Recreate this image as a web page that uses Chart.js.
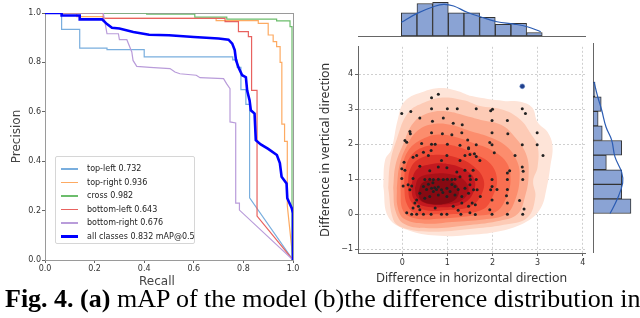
<!DOCTYPE html>
<html>
<head>
<meta charset="utf-8">
<script src="https://cdn.jsdelivr.net/npm/chart.js@4.4.1/dist/chart.umd.min.js"></script>
<style>
  body { margin: 0; background: #fff; width: 640px; height: 318px; overflow: hidden; position: relative; }
  canvas { position: absolute; }
  .lbl { position: absolute; white-space: nowrap; color: #333; }
  #legend { position: absolute; left: 55px; top: 156px; width: 138px; height: 86px; border: 1px solid #d6d6d6; border-radius: 2px; background: rgba(255,255,255,0.85); }
  #legend .row { position: absolute; left: 0; height: 10px; }
  #legend .swatch { position: absolute; left: 5px; width: 17px; }
  #legend .txt { position: absolute; left: 31px; top: 0; font: 8px 'DejaVu Sans'; line-height: 10px; color: #222; white-space: nowrap; }
  #cap { position: absolute; left: 5px; top: 286px; font: 26px 'Liberation Serif'; line-height: 26px; color: #000; white-space: nowrap; }
</style>
</head>
<body>
<canvas id="pr" width="305" height="295" style="left:0;top:0"></canvas>
<canvas id="joint" width="300" height="250" style="left:300px;top:40px"></canvas>
<canvas id="histTop" width="232" height="38" style="left:358px;top:0"></canvas>
<canvas id="histRight" width="50" height="210" style="left:590px;top:43px"></canvas>
<div id="legend"></div>
<div class="lbl" style="left:139px;top:274px;font:12px 'DejaVu Sans';color:#444">Recall</div>
<div id="cap"><b>Fig. 4. (a)</b> mAP of the model (b)the difference distribution in</div>

<script>
// ---------- (a) precision / recall curves ----------
const legendLabels = ['top-left 0.732', 'top-right 0.936', 'cross 0.982', 'bottom-left 0.643', 'bottom-right 0.676', 'all classes 0.832 mAP@0.5'];
const lineColors = ['#79aede', '#fdaa62', '#6cbd6c', '#e8625f', '#b99cda', '#0000ff'];

const tlRecall = [0, 0.067, 0.067, 0.14, 0.14, 0.25, 0.25, 0.40, 0.40, 0.757, 0.757, 0.775, 0.775, 0.79, 0.79, 0.81, 0.81, 0.825, 0.825, 1.0];
const tlPrec   = [1, 1, 0.934, 0.934, 0.858, 0.858, 0.852, 0.852, 0.822, 0.822, 0.81, 0.81, 0.78, 0.78, 0.69, 0.69, 0.63, 0.63, 0.252, 0.0];

const trRecall = [0, 0.128, 0.128, 0.235, 0.235, 0.69, 0.69, 0.86, 0.86, 0.90, 0.90, 0.92, 0.92, 0.934, 0.934, 0.948, 0.948, 0.955, 0.955, 0.966, 0.966, 0.977, 0.977, 1.0];
const trPrec   = [1, 1, 0.985, 0.985, 0.978, 0.978, 0.969, 0.969, 0.958, 0.958, 0.911, 0.911, 0.884, 0.884, 0.864, 0.864, 0.80, 0.80, 0.55, 0.55, 0.48, 0.48, 0.22, 0.0];

const crRecall = [0, 0.41, 0.41, 0.604, 0.604, 0.733, 0.733, 0.934, 0.934, 0.988, 0.988, 0.996, 0.996];
const crPrec   = [1, 1, 0.995, 0.995, 0.983, 0.983, 0.975, 0.975, 0.968, 0.968, 0.945, 0.945, 0.0];

const blRecall = [0, 0.235, 0.235, 0.726, 0.726, 0.78, 0.78, 0.82, 0.82, 0.833, 0.833, 0.855, 0.855, 1.0];
const blPrec   = [1, 1, 0.978, 0.978, 0.965, 0.965, 0.925, 0.925, 0.904, 0.904, 0.687, 0.687, 0.178, 0.0];

const brRecall = [0, 0.235, 0.25, 0.296, 0.30, 0.33, 0.35, 0.355, 0.37, 0.423, 0.504, 0.524, 0.544, 0.61, 0.625, 0.72, 0.732, 0.746, 0.746, 0.769, 0.769, 0.784, 0.784, 1.0];
const brPrec   = [1, 1, 0.916, 0.916, 0.892, 0.892, 0.842, 0.808, 0.784, 0.78, 0.775, 0.761, 0.754, 0.748, 0.738, 0.734, 0.714, 0.694, 0.559, 0.555, 0.23, 0.23, 0.202, 0.0];

const allRecall = [0, 0.067, 0.067, 0.14, 0.14, 0.23, 0.25, 0.27, 0.30, 0.356, 0.42, 0.5, 0.6, 0.7, 0.74, 0.755, 0.765, 0.77, 0.78, 0.795, 0.81, 0.815, 0.825, 0.83, 0.845, 0.85, 0.87, 0.9, 0.935, 0.947, 0.954, 0.974, 0.977, 0.995, 1.0, 1.0];
const allPrec   = [1, 1, 0.99, 0.99, 0.974, 0.974, 0.955, 0.94, 0.937, 0.923, 0.912, 0.91, 0.903, 0.897, 0.892, 0.876, 0.85, 0.81, 0.78, 0.748, 0.74, 0.687, 0.646, 0.606, 0.593, 0.485, 0.468, 0.45, 0.425, 0.392, 0.337, 0.31, 0.25, 0.21, 0.19, 0.0];

const prTicks = [0, 0.2, 0.4, 0.6, 0.8, 1.0];

// ---------- (b) difference distribution ----------
const diffX = [0.65, 0.80, -0.01, 0.19, 0.65, 1.0, 1.22, 0.39, 0.67, 0.91, 1.13, 1.33, 0.17, 0.18, 0.65, 0.89, 1.1, 1.32, 0.06, 0.1, 0.43, 0.65, 0.73, 1.0, 1.28, 1.45, 1.47,
  1.64, 1.96, 2.0, 2.66, 2.73, 1.99, 2.33, 1.99, 2.34, 2.99, 1.64, 1.94, 1.99, 2.66, 2.99,
  2.04, 2.5, 3.12, 2.66, 2.68, 2.38, 2.33, 2.33, 2.67, 1.99, 1.64, 1.57, 1.72, 1.6, 1.64, 1.99, 1.96, 2.1, 2.33, 2.31, 2.6, 2.33, 2.7, 1.99, 1.94, 1.62, 1.99, 2.33, 2.67, 1.66, 1.58, 1.73, 1.62, 1.55, 1.51,
  0.32, 0.58, 0.64, 0.99, 0.04, 0.24, 1.47, 1.39, 1.5, 0.47, 1.28, 0.87, -0.01, 0.06, 0.39, 0.61, 0.8, 0.99, 1.21, 1.39, 1.28, 1.5, -0.01, 0.02, 0.13, 0.21, 0.17, 0.24,
  0.5, 0.61, 0.69, 0.8, 0.91, 1.0, 1.1, 1.17, 0.47, 0.54, 0.65, 0.69, 0.76, 0.87, 0.99, 1.06, 1.17, 1.24, 1.39, 1.5, 0.39, 0.5, 0.61, 0.8, 0.99, 1.17, 1.32, 1.47,
  0.32, 0.36, 0.39, 0.24, 0.28, 0.21, 0.32, 0.47, 0.64, 0.87, 0.99, 1.3, 1.24, 1.13, 0.73, 1.32, 1.47, 1.5, 0.1, 0.72, 0.8, 0.9, 1.1, 0.58, 0.68];
const diffY = [3.33, 3.43, 2.88, 2.94, 3.02, 3.02, 3.02, 2.75, 2.66, 2.75, 2.6, 2.56, 2.37, 2.3, 2.33, 2.3, 2.27, 2.33, 2.11, 2.06, 2.02, 2.0, 2.0, 2.0, 1.97, 2.12, 1.9,
  3.02, 2.96, 3.0, 3.02, 2.88, 2.68, 2.68, 2.33, 2.3, 2.33, 1.99, 2.05, 1.99, 1.99, 1.99,
  1.76, 1.68, 1.68, 1.35, 1.23, 1.24, 1.18, 0.99, 0.99, 0.99, 0.99, 1.26, 1.54, 1.73, 1.65, 0.79, 0.7, 0.71, 0.71, 0.53, 0.39, 0.32, 0.15, 0.41, 0.13, -0.01, 0.0, 0.0, 0.0, 0.7, 0.7, 0.51, 0.27, 0.32, 0.99,
  1.68, 1.68, 1.82, 1.68, 1.49, 1.63, 1.87, 1.68, 1.71, 1.77, 1.54, 1.54, 1.3, 1.26, 1.37, 1.24, 1.35, 1.33, 1.21, 1.26, 1.07, 1.09, 1.02, 0.81, 0.84, 0.81, 0.7, 1.02,
  0.99, 1.0, 0.99, 1.0, 0.99, 1.0, 0.99, 1.0, 0.79, 0.71, 0.74, 0.65, 0.71, 0.7, 0.74, 0.65, 0.79, 0.71, 0.74, 0.84, 0.6, 0.46, 0.51, 0.55, 0.51, 0.55, 0.51, 0.6,
  0.41, 0.23, 0.13, 0.18, 0.32, 0.0, 0.0, 0.0, 0.0, 0.0, 0.0, 0.0, 0.11, 0.23, 0.18, 0.32, 0.23, 0.04, 0.04, 0.76, 0.78, 0.62, 0.85, 0.86, 0.9];
const outlier = [2.66, 3.66];

// KDE contour levels, outermost first
const level1 = [[-0.42,0.8],[-0.38,1.55],[-0.24,1.85],[-0.1,2.7],[0.06,3.24],[0.5,3.52],[0.87,3.61],[1.24,3.52],[1.54,3.38],[2.25,3.24],[2.62,3.22],[2.88,3.05],[3.0,2.63],[3.22,2.35],[3.33,1.95],[3.28,1.35],[3.2,0.75],[3.07,0.18],[2.77,-0.2],[2.18,-0.48],[1.4,-0.6],[0.84,-0.62],[0.18,-0.48],[-0.3,-0.1]];
const level2 = [[-0.31,0.75],[-0.27,1.45],[-0.12,2.15],[0.13,2.9],[0.5,3.2],[0.9,3.34],[1.39,3.25],[1.7,3.1],[2.25,2.98],[2.62,2.7],[2.85,2.3],[3.0,1.95],[3.0,1.35],[2.9,0.95],[2.95,0.5],[2.77,-0.1],[2.25,-0.3],[1.5,-0.42],[0.6,-0.5],[0.0,-0.38],[-0.2,-0.15]];
const level3 = [[-0.2,0.75],[-0.15,1.4],[0.02,2.0],[0.25,2.62],[0.6,2.9],[1.0,2.94],[1.4,2.82],[1.8,2.68],[2.2,2.55],[2.5,2.2],[2.75,1.7],[2.8,1.1],[2.72,0.5],[2.55,0.0],[2.1,-0.2],[1.4,-0.32],[0.6,-0.4],[0.05,-0.28],[-0.15,0.1]];
const level4 = [[-0.12,0.75],[-0.06,1.4],[0.1,1.95],[0.35,2.4],[0.7,2.58],[1.1,2.55],[1.5,2.38],[1.9,2.22],[2.3,1.95],[2.55,1.5],[2.6,1.0],[2.5,0.4],[2.3,0.0],[1.8,-0.15],[1.1,-0.22],[0.5,-0.27],[0.05,-0.14],[-0.1,0.2]];
const level5 = [[-0.04,0.75],[0.0,1.35],[0.15,1.85],[0.45,2.15],[0.8,2.28],[1.2,2.2],[1.6,2.02],[1.95,1.85],[2.3,1.5],[2.4,1.0],[2.3,0.45],[2.05,0.05],[1.5,-0.05],[0.9,-0.12],[0.3,-0.12],[0.02,0.1]];
const level6 = [[0.04,0.8],[0.08,1.35],[0.25,1.75],[0.55,1.95],[0.9,2.0],[1.25,1.92],[1.6,1.72],[1.95,1.45],[2.1,1.0],[2.0,0.5],[1.8,0.15],[1.3,0.02],[0.8,0.0],[0.3,0.02],[0.1,0.3]];
const level7 = [[0.12,0.8],[0.18,1.3],[0.4,1.6],[0.8,1.7],[1.2,1.62],[1.55,1.4],[1.8,1.0],[1.75,0.55],[1.5,0.22],[1.0,0.12],[0.5,0.12],[0.2,0.35]];
const level8 = [[0.2,0.8],[0.3,1.25],[0.6,1.42],[1.0,1.44],[1.35,1.3],[1.6,1.0],[1.55,0.55],[1.3,0.28],[0.9,0.2],[0.45,0.24],[0.25,0.45]];
const level9 = [[0.28,0.75],[0.38,1.05],[0.7,1.16],[1.05,1.15],[1.35,1.0],[1.47,0.7],[1.32,0.4],[0.95,0.28],[0.55,0.3],[0.33,0.48]];
const level10 = [[0.36,0.65],[0.45,0.9],[0.75,1.0],[1.05,0.98],[1.25,0.75],[1.2,0.45],[0.95,0.3],[0.6,0.3],[0.4,0.42]];
const levelColors = ['#fee4d8', '#fdcbb6', '#fcab8f', '#fc8d6d', '#f96f51', '#f14f39', '#de3328', '#c4191f', '#a91118', '#870a12'];

const axisTicksX = [0, 1, 2, 3, 4];
const axisTicksY = [-1, 0, 1, 2, 3, 4];

// marginal histograms
const binCentersX = [0.153, 0.5, 0.847, 1.194, 1.541, 1.888, 2.235, 2.582, 2.929];
const countsX = [20, 28, 29, 20, 20, 16, 10, 11, 3];
const kdeGridX = [-0.02, 0.33, 0.69, 0.92, 1.14, 1.44, 1.73, 2.1, 2.47, 2.77, 3.07];
const kdeValX = [11.8, 19.5, 25.2, 27.3, 25.8, 20.4, 16.6, 12.3, 10.3, 8, 3.7];

const binCentersY = [0.205, 0.615, 1.025, 1.435, 1.845, 2.255, 2.665, 3.075, 3.485];
const countsY = [37, 28, 28, 13, 28, 9, 5, 8, 2];
const kdeGridY = [0, 0.37, 0.85, 1.16, 1.59, 2.06, 2.43, 2.9, 3.28, 3.7];
const kdeValY = [16.6, 23.1, 28.9, 27.9, 21.4, 18.2, 12.7, 8.5, 4.6, 1.0];

const X_MIN = -0.98, X_MAX = 4.05, Y_MIN = -1.11, Y_MAX = 4.79;

Chart.defaults.font.family = 'DejaVu Sans';
Chart.defaults.animation = false;
Chart.defaults.plugins.legend.display = false;
Chart.defaults.plugins.tooltip.enabled = false;

const zip = (a, b) => a.map((v, i) => ({ x: v, y: b[i] }));

// frame round the plot area
const frame = {
  id: 'frame',
  beforeDatasetsDraw(chart) {
    const a = chart.chartArea, ctx = chart.ctx;
    ctx.save();
    ctx.strokeStyle = '#9a9a9a';
    ctx.lineWidth = 1;
    ctx.strokeRect(Math.round(a.left) + 0.5, Math.round(a.top) + 0.5, Math.round(a.right - a.left), Math.round(a.bottom - a.top));
    ctx.restore();
  }
};

const prData = [[tlRecall, tlPrec], [trRecall, trPrec], [crRecall, crPrec], [blRecall, blPrec], [brRecall, brPrec], [allRecall, allPrec]];

new Chart(document.getElementById('pr'), {
  type: 'scatter',
  data: {
    datasets: prData.map((d, i) => ({
      label: legendLabels[i],
      data: zip(d[0], d[1]),
      showLine: true,
      borderColor: lineColors[i],
      borderWidth: i === 5 ? 2.6 : 1.2,
      pointRadius: 0,
      order: 5 - i
    }))
  },
  options: {
    responsive: false,
    devicePixelRatio: 1,
    layout: { padding: { top: 13, right: 12, left: 0, bottom: 0 } },
    scales: {
      x: {
        type: 'linear', min: 0, max: 1,
        afterBuildTicks: s => { s.ticks = prTicks.map(v => ({ value: v })); },
        ticks: { callback: v => v.toFixed(1), font: { size: 8 }, color: '#333', padding: 1, maxRotation: 0 },
        grid: { drawOnChartArea: false, tickLength: 3, tickColor: '#666' },
        border: { display: false },
        afterFit: s => { s.height = 35; }
      },
      y: {
        type: 'linear', min: 0, max: 1,
        afterBuildTicks: s => { s.ticks = prTicks.map(v => ({ value: v })); },
        ticks: { callback: v => v.toFixed(1), font: { size: 8 }, color: '#333', padding: 1 },
        grid: { drawOnChartArea: false, tickLength: 3, tickColor: '#666' },
        border: { display: false },
        title: { display: true, text: 'Precision', font: { size: 12 }, color: '#444', padding: { top: 10 } },
        afterFit: s => { s.width = 45; }
      }
    }
  },
  plugins: [frame]
});

// legend box
const legend = document.getElementById('legend');
legendLabels.forEach((t, i) => {
  const row = document.createElement('div');
  row.className = 'row';
  row.style.top = (7 + i * 13.5) + 'px';
  const w = i === 5 ? 2.6 : 1.5;
  row.innerHTML = '<div class="swatch" style="top:' + (5 - w / 2) + 'px;height:' + w + 'px;background:' + lineColors[i] + '"></div><div class="txt">' + t + '</div>';
  legend.appendChild(row);
});

// joint KDE plot
const levels = [level1, level2, level3, level4, level5, level6, level7, level8, level9, level10];
const contourSets = levels.map((lv, i) => ({
  type: 'line',
  data: lv.concat([lv[0]]).map(p => ({ x: p[0], y: p[1] })),
  borderWidth: 0,
  borderColor: 'rgba(0,0,0,0)',
  backgroundColor: levelColors[i],
  fill: 'shape',
  tension: 0.4,
  pointRadius: 0,
  order: 20 - i
}));

const minusFmt = v => (v < 0 ? '\u2212' + Math.abs(v) : '' + v);

new Chart(document.getElementById('joint'), {
  type: 'scatter',
  data: {
    datasets: [
      { data: zip(diffX, diffY), pointRadius: 1.5, backgroundColor: '#222', borderWidth: 0, order: 1 },
      { data: [{ x: outlier[0], y: outlier[1] }], pointRadius: 2.4, backgroundColor: '#1f3f8c', borderColor: '#5c7fc0', borderWidth: 0.6, order: 0 }
    ].concat(contourSets)
  },
  options: {
    responsive: false,
    devicePixelRatio: 1,
    layout: { padding: { top: 3, right: 15, left: 0, bottom: 0 } },
    scales: {
      x: {
        type: 'linear', min: X_MIN, max: X_MAX,
        afterBuildTicks: s => { s.ticks = axisTicksX.map(v => ({ value: v })); },
        ticks: { font: { size: 8 }, color: '#333', padding: 2, maxRotation: 0 },
        grid: { color: '#cfcfcf', tickLength: 3, tickColor: '#666' },
        border: { color: '#666', dash: [2, 2] },
        title: { display: true, text: 'Difference in horizontal direction', font: { family: 'Noto Sans', size: 12.4 }, color: '#333', padding: { bottom: 4 } },
        afterFit: s => { s.height = 37; }
      },
      y: {
        type: 'linear', min: Y_MIN, max: Y_MAX,
        afterBuildTicks: s => { s.ticks = axisTicksY.map(v => ({ value: v })); },
        ticks: { font: { size: 8 }, color: '#333', padding: 2, callback: minusFmt },
        grid: { color: '#cfcfcf', tickLength: 3, tickColor: '#666' },
        border: { color: '#666', dash: [2, 2] },
        title: { display: true, text: 'Difference in vertical direction', font: { family: 'Noto Sans', size: 12.4 }, color: '#333', padding: { top: 18 } },
        afterFit: s => { s.width = 58; }
      }
    }
  }
});

// top marginal histogram
new Chart(document.getElementById('histTop'), {
  type: 'bar',
  data: {
    datasets: [
      { type: 'line', data: zip(kdeGridX, kdeValX), borderColor: '#2b5cb3', borderWidth: 1.2, pointRadius: 0, tension: 0.4, order: 0 },
      { data: zip(binCentersX, countsX), backgroundColor: '#8aa3d4', borderColor: '#333', borderWidth: 1, borderSkipped: false, barPercentage: 1, categoryPercentage: 1, order: 1 }
    ]
  },
  options: {
    responsive: false,
    devicePixelRatio: 1,
    layout: { padding: { top: 0, right: 5, left: 0, bottom: 0 } },
    scales: {
      x: {
        type: 'linear', min: X_MIN, max: X_MAX, offset: false,
        ticks: { display: false },
        grid: { display: false },
        border: { color: '#666' },
        afterFit: s => { s.height = 2; }
      },
      y: { min: 0, max: 31, display: false }
    }
  }
});

// right marginal histogram
new Chart(document.getElementById('histRight'), {
  type: 'bar',
  data: {
    datasets: [
      { type: 'line', data: zip(kdeValY, kdeGridY), borderColor: '#2b5cb3', borderWidth: 1.2, pointRadius: 0, tension: 0.4, order: 0 },
      { data: zip(countsY, binCentersY), backgroundColor: '#8aa3d4', borderColor: '#333', borderWidth: 1, borderSkipped: false, barPercentage: 1, categoryPercentage: 1, order: 1 }
    ]
  },
  options: {
    indexAxis: 'y',
    responsive: false,
    devicePixelRatio: 1,
    layout: { padding: 0 },
    scales: {
      y: {
        type: 'linear', min: Y_MIN, max: Y_MAX, offset: false,
        ticks: { display: false },
        grid: { display: false },
        border: { color: '#666' },
        afterFit: s => { s.width = 3; }
      },
      x: { min: 0, max: 45.8, display: false }
    }
  }
});
</script>
</body>
</html>
